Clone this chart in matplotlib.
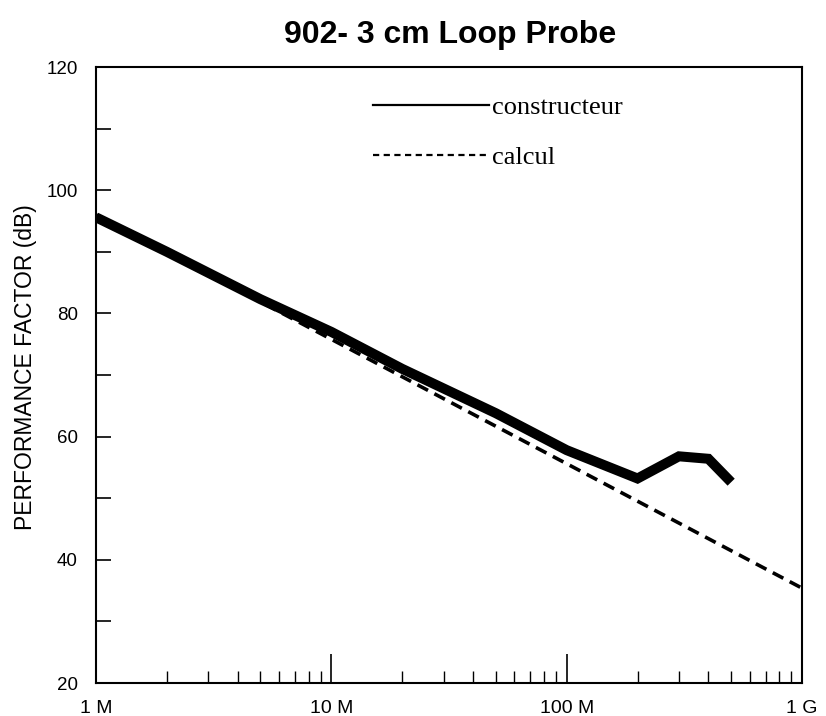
import matplotlib
matplotlib.use("Agg")
import matplotlib.pyplot as plt
from matplotlib.lines import Line2D
from matplotlib.ticker import LogLocator, FixedLocator, MultipleLocator, NullFormatter

# ---- data ----
freq_constructeur = [1e6, 2e6, 5e6, 1e7, 2e7, 5e7, 1e8, 2e8, 3e8, 4e8, 5e8]
pf_constructeur = [95.6, 90.0, 82.3, 77.0, 71.0, 63.8, 57.8, 53.2, 56.8, 56.4, 52.6]
freq_calcul = [1e6, 1e9]
pf_calcul = [96.0, 35.4]

x_ticks = [1e6, 1e7, 1e8, 1e9]
x_ticklabels = ["1 M", "10 M", "100 M", "1 G"]
y_ticks = [20, 40, 60, 80, 100, 120]

title = "902- 3 cm Loop Probe"
ylabel = "PERFORMANCE FACTOR (dB)"
labels = ["constructeur", "calcul"]

plt.rcParams['font.family'] = ['Liberation Sans', 'DejaVu Sans']

W, H = 826, 716
L, R, T, B = 96, 802, 67, 683
fig = plt.figure(figsize=(W/100, H/100), dpi=100)
ax = fig.add_axes([L/W, 1-B/H, (R-L)/W, (B-T)/H])

ax.plot(freq_constructeur, pf_constructeur, color='black', lw=7.2,
        solid_joinstyle='miter', solid_capstyle='butt')
ax.plot(freq_calcul, pf_calcul, color='black', lw=2.6, linestyle=(0, (3.3, 2.0)),
        dash_capstyle='butt')

ax.set_xscale('log')
ax.set_xlim(1e6, 1e9)
ax.set_ylim(20, 120)

ax.xaxis.set_major_locator(FixedLocator(x_ticks))
ax.set_xticklabels(x_ticklabels)
ax.xaxis.set_minor_locator(LogLocator(base=10, subs=range(2, 10)))
ax.xaxis.set_minor_formatter(NullFormatter())
ax.yaxis.set_major_locator(FixedLocator(y_ticks))
ax.yaxis.set_minor_locator(MultipleLocator(10))

ax.tick_params(axis='x', which='major', direction='in', length=21, width=1.2,
               labelsize=14, pad=12)
ax.tick_params(axis='x', which='minor', direction='in', length=8.5, width=1.0)
ax.tick_params(axis='y', which='both', direction='in', length=11, width=1.2,
               labelsize=13.5, pad=13)

for s in ax.spines.values():
    s.set_linewidth(1.5)

ax.set_ylabel(ylabel, fontsize=16.5)
ax.yaxis.set_label_coords(-0.083, 0.513)

fig.text(450/W, 1-43/H, title, ha='center', va='baseline', fontsize=23,
         fontweight='bold')

handles = [Line2D([], [], color='black', lw=1.6),
           Line2D([], [], color='black', lw=1.6, linestyle=(0, (2.8, 2.0)))]
leg = ax.legend(handles, labels, loc='upper left',
                bbox_to_anchor=((373-L)/(R-L), (B-96)/(B-T)),
                frameon=False, borderpad=0, borderaxespad=0, handlelength=4.4,
                handletextpad=0.1, labelspacing=1.0,
                prop={'family': 'Liberation Serif', 'size': 19})

fig.savefig('out.png', dpi=100)
